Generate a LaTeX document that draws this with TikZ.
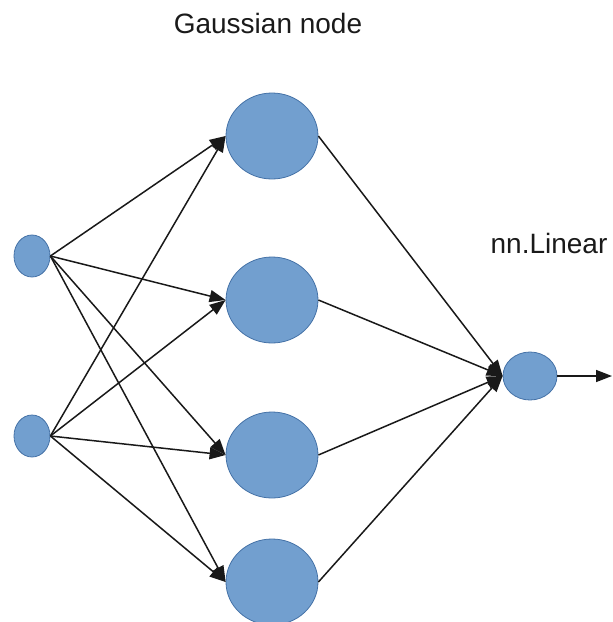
\documentclass[tikz,border=0pt]{standalone}
\usepackage{fontspec}
\setmainfont{Liberation Sans}
\usetikzlibrary{arrows.meta,shapes.geometric}
\definecolor{nodefill}{RGB}{114,159,207}
\definecolor{nodeline}{RGB}{69,114,167}
\definecolor{labeltext}{RGB}{26,26,26}
\begin{document}
\begin{tikzpicture}[x=1pt,y=-1pt,
  unit/.style={ellipse, draw=nodeline, fill=nodefill, line width=0.8pt, inner sep=0pt},
  inunit/.style={unit, minimum width=36pt, minimum height=42pt},
  gaussunit/.style={unit, minimum width=92pt, minimum height=86pt},
  outunit/.style={unit, minimum width=54pt, minimum height=48pt},
  link/.style={draw=black!90, line width=1.5pt, -{Triangle[length=16pt,width=12pt]}},
  caption/.style={text=labeltext, font=\fontsize{28}{34}\selectfont, inner sep=0pt}]
\useasboundingbox (0,0) rectangle (613,622);

% input layer
\node[inunit] (i1) at (32,256) {};
\node[inunit] (i2) at (32,436) {};

% Gaussian layer
\node[gaussunit] (g1) at (272,136) {};
\node[gaussunit] (g2) at (272,300) {};
\node[gaussunit] (g3) at (272,455) {};
\node[gaussunit] (g4) at (272,582) {};

% output unit
\node[outunit] (o) at (530,376) {};
\coordinate (oend) at (612,376);

% labels
\node[caption] (tg) at (268,23) {Gaussian node};
\node[caption] (tl) at (549,243) {nn.Linear};

% input -> Gaussian connections
\foreach \g in {g1,g2,g3,g4}{
  \draw[link] (i1.east) -- (\g.west);
  \draw[link] (i2.east) -- (\g.west);
}

% Gaussian -> output connections
\foreach \g in {g1,g2,g3,g4}{
  \draw[link] (\g.east) -- (o.west);
}
\draw[link] (o.east) -- (oend);
\end{tikzpicture}
\end{document}
